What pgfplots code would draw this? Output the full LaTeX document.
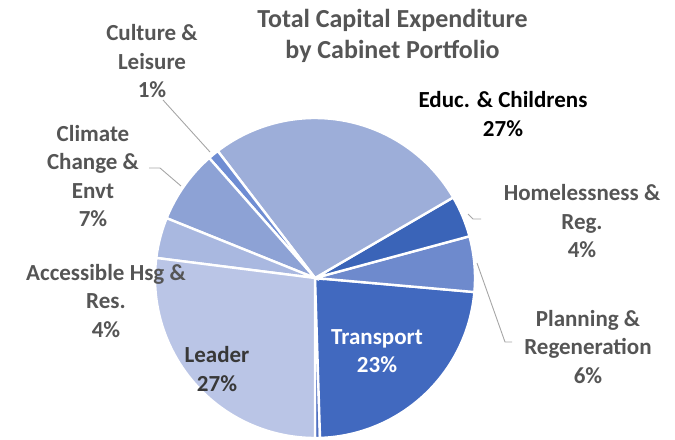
\documentclass[border=0pt]{standalone}
\usepackage{pgfplots}
\usepackage{pgfplotstable}
\pgfplotsset{compat=1.18}
\usepackage{fontspec}
\setmainfont{Carlito}

\definecolor{cTiny}{HTML}{4F70C2}
\definecolor{cTransport}{HTML}{4169BF}
\definecolor{cPlanning}{HTML}{6E8ACD}
\definecolor{cHomeless}{HTML}{3A64B8}
\definecolor{cEduc}{HTML}{9DAED9}
\definecolor{cCulture}{HTML}{6F8DD3}
\definecolor{cClimate}{HTML}{8DA2D5}
\definecolor{cAccess}{HTML}{A9B8E0}
\definecolor{cLeader}{HTML}{BAC5E6}
\definecolor{txtgray}{HTML}{555555}
\definecolor{leadgray}{HTML}{A6A6A6}

% shares in percent, counter-clockwise from 6 o'clock
\pgfplotstableread{
share colour
0.5   cTiny
23.1  cTransport
5.6   cPlanning
4.2   cHomeless
27.0  cEduc
1.1   cCulture
7.4   cClimate
4.1   cAccess
27.0  cLeader
}\piedata

\begin{document}
\begin{tikzpicture}
\begin{axis}[
    x=1bp, y=1bp,
    xmin=0, xmax=675, ymin=0, ymax=440,
    enlargelimits=false,
    hide axis,
    clip=false,
]
\pgfplotstablegetrowsof{\piedata}
\pgfmathtruncatemacro\lastrow{\pgfplotsretval-1}
\def\angstart{-90}
\pgfplotsforeachungrouped \i in {0,...,\lastrow}{%
  \pgfplotstablegetelem{\i}{share}\of\piedata \let\share\pgfplotsretval
  \pgfplotstablegetelem{\i}{colour}\of\piedata \let\col\pgfplotsretval
  \pgfmathsetmacro\angend{\angstart+3.6*\share}
  \edef\wedge{\noexpand\filldraw[fill=\col, draw=white, line width=2.4bp]
    (axis cs:315,162) -- ++(\angstart:160bp)
    arc[start angle=\angstart, end angle=\angend, radius=160bp] -- cycle;}
  \wedge
  \global\let\angstart\angend
}

% leader lines
\draw[leadgray, line width=0.9bp] (axis cs:163,340) -- (axis cs:210,288);
\draw[leadgray, line width=0.9bp] (axis cs:149,272) -- (axis cs:160,272) -- (axis cs:181,254);
\draw[leadgray, line width=0.9bp] (axis cs:468,226) -- (axis cs:473,221) -- (axis cs:481,221);
\draw[leadgray, line width=0.9bp] (axis cs:477,177) -- (axis cs:505,98) -- (axis cs:512,98);

\tikzset{lbl/.style={align=center, font=\fontsize{23bp}{28.5bp}\selectfont\bfseries, inner sep=0pt}}
\node[align=center, inner sep=0pt, text=txtgray, font=\fontsize{26bp}{31.5bp}\selectfont\bfseries]
  at (axis cs:392.5,404) {Total Capital Expenditure\\by Cabinet Portfolio};
\node[lbl, text=txtgray] at (axis cs:152,378.5) {Culture \&\\Leisure\\1\%};
\node[lbl, text=txtgray] at (axis cs:93,264) {Climate\\Change \&\\Envt\\7\%};
\node[lbl, text=txtgray] at (axis cs:106,139) {Accessible Hsg \&\\Res.\\4\%};
\node[lbl, text=black!78] at (axis cs:217,71) {Leader\\27\%};
\node[lbl, text=white] at (axis cs:377,89) {Transport\\23\%};
\node[lbl, text=black] at (axis cs:503,326) {Educ. \& Childrens\\27\%};
\node[lbl, text=txtgray] at (axis cs:582,218.5) {Homelessness \&\\Reg.\\4\%};
\node[lbl, text=txtgray] at (axis cs:588,93) {Planning \&\\Regeneration\\6\%};
\end{axis}
\pgfresetboundingbox
\path (0,0) rectangle (675bp,440bp);
\end{tikzpicture}
\end{document}
